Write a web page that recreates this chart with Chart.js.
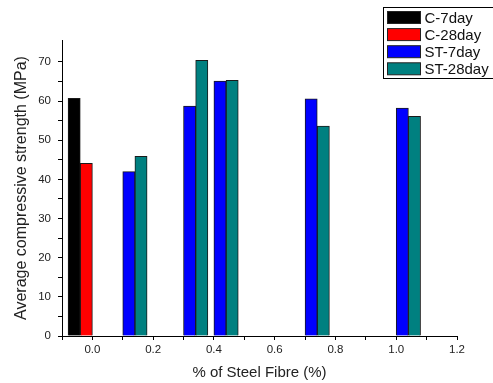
<!DOCTYPE html>
<html>
<head>
<meta charset="utf-8">
<script src="https://cdn.jsdelivr.net/npm/chart.js@4.4.0/dist/chart.umd.min.js"></script>
<style>
  html, body { margin: 0; padding: 0; background: #fff; }
  #wrap { width: 493px; height: 383px; }
</style>
</head>
<body>
<div id="wrap"><canvas id="myChart" width="493" height="383"></canvas></div>
<script>
// data
const seriesNames = ["C-7day", "C-28day", "ST-7day", "ST-28day"];
const seriesColors = ["#000000", "#ff0000", "#0000ff", "#008080"];
const cPos7 = [-0.06];
const cVal7 = [60.7];
const cPos28 = [-0.02];
const cVal28 = [44.1];
const stPos7 = [0.12, 0.32, 0.42, 0.72, 1.02];
const stVal7 = [42.0, 58.7, 65.1, 60.6, 58.2];
const stPos28 = [0.16, 0.36, 0.46, 0.76, 1.06];
const stVal28 = [45.9, 70.4, 65.3, 53.6, 56.1];

const positions = [cPos7, cPos28, stPos7, stPos28];
const values = [cVal7, cVal28, stVal7, stVal28];

const font = "Arial, 'Liberation Sans', sans-serif";

const datasets = seriesNames.map((name, i) => ({
  label: name,
  data: positions[i].map((x, j) => ({ x: x, y: values[i][j] })),
  backgroundColor: seriesColors[i],
  borderColor: "#1a1a1a",
  borderWidth: 1,
  barThickness: 12.2,
  grouped: false,
}));

// boxed legend in the top right corner
const boxLegend = {
  id: "boxLegend",
  afterDraw(chart) {
    const ctx = chart.ctx;
    ctx.save();
    ctx.strokeStyle = "#000";
    ctx.lineWidth = 1;
    ctx.strokeRect(383.5, 7.5, 112, 71);
    ctx.font = "15px " + font;
    ctx.textBaseline = "middle";
    chart.data.datasets.forEach((ds, i) => {
      const y = 17.5 + i * 17.1;
      ctx.fillStyle = ds.backgroundColor;
      ctx.fillRect(387.5, y - 6, 33, 12);
      ctx.strokeStyle = "#222";
      ctx.strokeRect(387.5, y - 6, 33, 12);
      ctx.fillStyle = "#111";
      ctx.fillText(ds.label, 424.5, y + 1);
    });
    ctx.restore();
  },
};

const ctx = document.getElementById("myChart");
new Chart(ctx, {
  type: "bar",
  data: { datasets: datasets },
  plugins: [boxLegend],
  options: {
    responsive: false,
    animation: false,
    layout: { padding: { top: 40, right: 36, left: 0, bottom: 0 } },
    plugins: {
      legend: { display: false },
      tooltip: { enabled: false },
    },
    scales: {
      x: {
        type: "linear",
        offset: false,
        min: -0.1,
        max: 1.2,
        afterFit: (scale) => { scale.height = 47; },
        ticks: {
          stepSize: 0.1,
          autoSkip: false,
          maxRotation: 0,
          color: "#222",
          font: { family: font, size: 11.5 },
          padding: 3,
          callback: (v) => (Math.round(v * 10) % 2 === 0 ? v.toFixed(1) : ""),
        },
        grid: { offset: false, drawOnChartArea: false, drawTicks: true, tickLength: 4, color: "#000" },
        border: { color: "#000", width: 1 },
        title: {
          display: true,
          text: "% of Steel Fibre (%)",
          color: "#222",
          font: { family: font, size: 15 },
          padding: { top: 4, bottom: 1 },
        },
      },
      y: {
        min: 0,
        max: 75.6,
        afterFit: (scale) => { scale.width = 62; },
        afterBuildTicks: (scale) => {
          scale.ticks = scale.ticks.filter((t) => Math.abs(t.value % 5) < 1e-6);
        },
        ticks: {
          stepSize: 5,
          color: "#222",
          font: { family: font, size: 11.5 },
          padding: 7,
          callback: (v) => (v % 10 === 0 ? v : ""),
        },
        grid: { drawOnChartArea: false, drawTicks: true, tickLength: 4, color: "#000" },
        border: { color: "#000", width: 1 },
        title: {
          display: true,
          text: "Average compressive strength (MPa)",
          color: "#222",
          font: { family: font, size: 16 },
          padding: { top: 12, bottom: 2 },
        },
      },
    },
  },
});
</script>
</body>
</html>
